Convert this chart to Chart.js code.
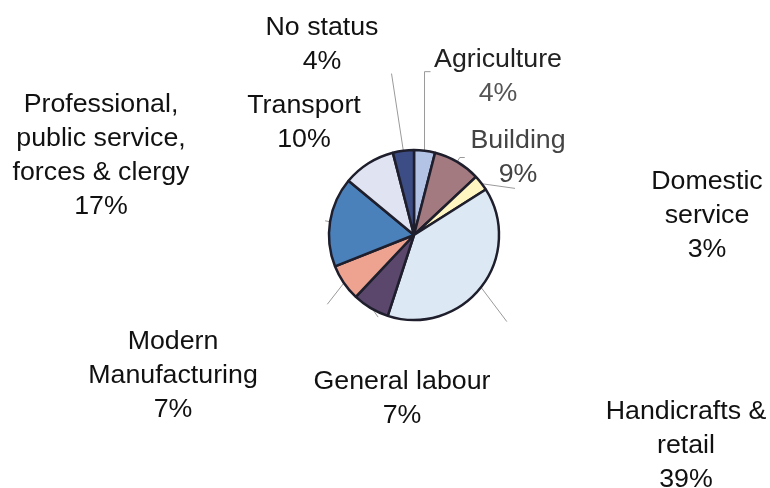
<!DOCTYPE html>
<html>
<head>
<meta charset="utf-8">
<script src="https://cdn.jsdelivr.net/npm/chart.js@4/dist/chart.umd.min.js"></script>
<style>
  html, body { margin: 0; padding: 0; background: #fff; }
  #wrap { width: 770px; height: 488px; }
</style>
</head>
<body>
<div id="wrap"><canvas id="myChart" width="770" height="488"></canvas></div>
<script>
// occupational shares, clockwise from 12 o'clock
var categories = ['Agriculture', 'Building', 'Domestic\nservice', 'Handicrafts &\nretail', 'General labour',
                  'Modern\nManufacturing', 'Professional,\npublic service,\nforces & clergy', 'Transport', 'No status'];
var shares = [4, 9, 3, 39, 7, 7, 17, 10, 4];

var sliceColors = ['#b3c3e5', '#a37a7f', '#fff6c2', '#dde8f5', '#5a476b', '#eda38f', '#4a81ba', '#dfe3f2', '#3c4c84'];

// where each label block sits (centre x, first baseline y)
var labelPos = [[498, 67], [518, 148], [707, 189], [686, 419], [402, 389], [173, 349], [101, 112], [304, 113], [322, 35]];
// leader lines: direction in degrees (canvas, 0 = right, clockwise) and length, 0 = none
var leaderDir = [-90, -60, 8, 53, 55, 128, 190, 0, -98.7];
var leaderLen = [80, 6, 35, 44, 12, 28, 6, 0, 79];
var leaderTick = [6, 5, 0, 0, 0, 0, 0, 0, 0];
var nameColor = ['#222', '#444', '#111', '#111', '#111', '#111', '#111', '#111', '#111'];
var pctColor = ['#555', '#444', '#111', '#111', '#111', '#111', '#111', '#111', '#111'];

// draw leader lines and the outside labels
var outsideLabels = {
	id: 'outsideLabels',
	beforeDatasetsDraw: function(chart) {
		var ctx = chart.ctx;
		var arcs = chart.getDatasetMeta(0).data;
		ctx.save();
		ctx.strokeStyle = '#9a9a9a';
		ctx.lineWidth = 1;
		for (var i = 0; i < arcs.length; i++) {
			if (!leaderLen[i]) continue;
			var a = arcs[i];
			var mid = (a.startAngle + a.endAngle) / 2;
			var r = a.outerRadius - 1;
			var x0 = a.x + Math.cos(mid) * r;
			var y0 = a.y + Math.sin(mid) * r;
			var d = leaderDir[i] * Math.PI / 180;
			var x1 = x0 + Math.cos(d) * leaderLen[i];
			var y1 = y0 + Math.sin(d) * leaderLen[i];
			ctx.beginPath();
			ctx.moveTo(x0, y0);
			ctx.lineTo(x1, y1);
			if (leaderTick[i]) ctx.lineTo(x1 + leaderTick[i], y1);
			ctx.stroke();
		}
		ctx.restore();
	},
	afterDraw: function(chart) {
		var ctx = chart.ctx;
		ctx.save();
		ctx.font = '25px "Liberation Sans", Arial, sans-serif';
		ctx.textAlign = 'center';
		ctx.textBaseline = 'alphabetic';
		for (var i = 0; i < categories.length; i++) {
			var lines = categories[i].split('\n');
			lines.push(shares[i] + '%');
			for (var j = 0; j < lines.length; j++) {
				ctx.fillStyle = j === lines.length - 1 ? pctColor[i] : nameColor[i];
				ctx.save();
				ctx.translate(labelPos[i][0], labelPos[i][1] + j * 34);
				ctx.scale(1.07, 1);
				ctx.fillText(lines[j], 0, 0);
				ctx.restore();
			}
		}
		ctx.restore();
	}
};

var ctx = document.getElementById('myChart');
var myPieChart = new Chart(ctx, {
	type: 'pie',
	data: {
		labels: categories.map(function(c) { return c.replace(/\n/g, ' '); }),
		datasets: [{
			data: shares,
			backgroundColor: sliceColors,
			borderColor: '#1e1e2c',
			borderWidth: 2.5,
			radius: 85
		}]
	},
	options: {
		responsive: false,
		animation: false,
		layout: { padding: { left: 58, right: 0, top: 0, bottom: 18 } },
		plugins: {
			legend: { display: false },
			tooltip: { enabled: false }
		}
	},
	plugins: [outsideLabels]
});
</script>
</body>
</html>
